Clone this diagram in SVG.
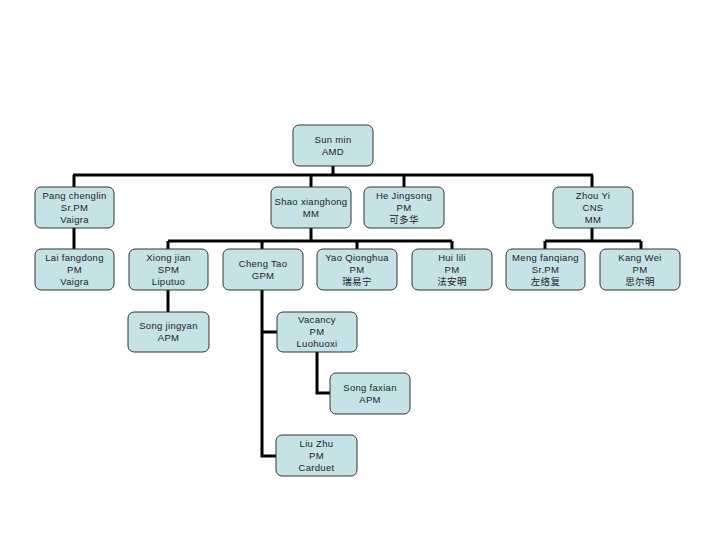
<svg xmlns="http://www.w3.org/2000/svg" width="720" height="540" viewBox="0 0 720 540">
<style>
.box{fill:#c5e2e6;stroke:#333;stroke-width:1}
.t{font-family:"Liberation Sans","Noto Sans CJK SC",sans-serif;font-size:9.5px;fill:#222;text-anchor:middle;letter-spacing:0.3px}
.c{fill:none;stroke:#000;stroke-width:3}
</style>
<rect width="720" height="540" fill="#fff"/>
<g id="connectors">
<path class="c" d="M333 166V175M73 175H593M74 175V187M311 175V187M404 175V187M592 175V187"/>
<path class="c" d="M74 228V249"/>
<path class="c" d="M311 228V241M168 241H452M168 241V249M262 241V249M357 241V249M452 241V249"/>
<path class="c" d="M592 228V241M545 241H641M545 241V249M641 241V249"/>
<path class="c" d="M168 290V312"/>
<path class="c" d="M262 290V456H277M262 332H277"/>
<path class="c" d="M317 352V393H330"/>
</g>
<g id="sunmin"><rect class="box" x="293" y="125" width="80" height="41" rx="6"/><text class="t" x="333" y="143">Sun min</text><text class="t" x="333" y="155">AMD</text></g>
<g id="pang"><rect class="box" x="35" y="187" width="79" height="41" rx="6"/><text class="t" x="74.5" y="199">Pang chenglin</text><text class="t" x="74.5" y="211">Sr.PM</text><text class="t" x="74.5" y="223">Vaigra</text></g>
<g id="shao"><rect class="box" x="271" y="187" width="80" height="41" rx="6"/><text class="t" x="311" y="205">Shao xianghong</text><text class="t" x="311" y="217">MM</text></g>
<g id="he"><rect class="box" x="364" y="187" width="80" height="41" rx="6"/><text class="t" x="404" y="199">He Jingsong</text><text class="t" x="404" y="211">PM</text><text class="t" x="404" y="223">可多华</text></g>
<g id="zhou"><rect class="box" x="553" y="187" width="80" height="41" rx="6"/><text class="t" x="593" y="199">Zhou Yi</text><text class="t" x="593" y="211">CNS</text><text class="t" x="593" y="223">MM</text></g>
<g id="lai"><rect class="box" x="35" y="249" width="79" height="41" rx="6"/><text class="t" x="74.5" y="261">Lai fangdong</text><text class="t" x="74.5" y="273">PM</text><text class="t" x="74.5" y="285">Vaigra</text></g>
<g id="xiong"><rect class="box" x="129" y="249" width="79" height="41" rx="6"/><text class="t" x="168.5" y="261">Xiong jian</text><text class="t" x="168.5" y="273">SPM</text><text class="t" x="168.5" y="285">Liputuo</text></g>
<g id="cheng"><rect class="box" x="223" y="249" width="80" height="41" rx="6"/><text class="t" x="263" y="267">Cheng Tao</text><text class="t" x="263" y="279">GPM</text></g>
<g id="yao"><rect class="box" x="317" y="249" width="80" height="41" rx="6"/><text class="t" x="357" y="261">Yao Qionghua</text><text class="t" x="357" y="273">PM</text><text class="t" x="357" y="285">瑞易宁</text></g>
<g id="hui"><rect class="box" x="412" y="249" width="80" height="41" rx="6"/><text class="t" x="452" y="261">Hui lili</text><text class="t" x="452" y="273">PM</text><text class="t" x="452" y="285">法安明</text></g>
<g id="meng"><rect class="box" x="506" y="249" width="79" height="41" rx="6"/><text class="t" x="545.5" y="261">Meng fanqiang</text><text class="t" x="545.5" y="273">Sr.PM</text><text class="t" x="545.5" y="285">左络复</text></g>
<g id="kang"><rect class="box" x="600" y="249" width="80" height="41" rx="6"/><text class="t" x="640" y="261">Kang Wei</text><text class="t" x="640" y="273">PM</text><text class="t" x="640" y="285">思尔明</text></g>
<g id="songjingyan"><rect class="box" x="128" y="312" width="81" height="40" rx="6"/><text class="t" x="168.5" y="329">Song jingyan</text><text class="t" x="168.5" y="341">APM</text></g>
<g id="vacancy"><rect class="box" x="277" y="312" width="80" height="40" rx="6"/><text class="t" x="317" y="323">Vacancy</text><text class="t" x="317" y="335">PM</text><text class="t" x="317" y="347">Luohuoxi</text></g>
<g id="songfaxian"><rect class="box" x="330" y="373" width="80" height="41" rx="6"/><text class="t" x="370" y="391">Song faxian</text><text class="t" x="370" y="403">APM</text></g>
<g id="liuzhu"><rect class="box" x="276" y="435" width="81" height="41" rx="6"/><text class="t" x="316.5" y="447">Liu Zhu</text><text class="t" x="316.5" y="459">PM</text><text class="t" x="316.5" y="471">Carduet</text></g>
</svg>
